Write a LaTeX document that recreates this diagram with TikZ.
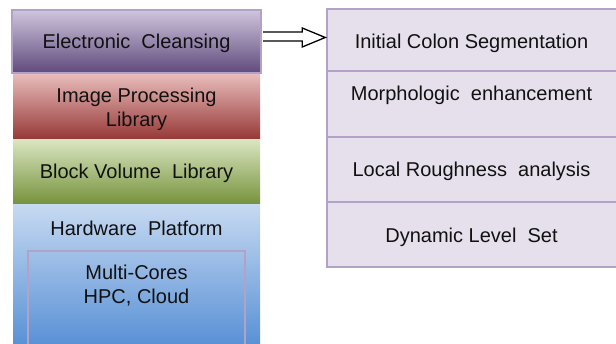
\documentclass[tikz,border=0pt]{standalone}
\usepackage{fontspec}
\setmainfont{Liberation Sans}
\usetikzlibrary{calc}
\definecolor{lav}{HTML}{B3A2C7}
\definecolor{ecTop}{HTML}{CFC5DD}
\definecolor{ecBot}{HTML}{5F4A7C}
\definecolor{ipTop}{HTML}{E8BCBB}
\definecolor{ipBot}{HTML}{953735}
\definecolor{bvTop}{HTML}{D9E5C0}
\definecolor{bvBot}{HTML}{76923C}
\definecolor{hwTop}{HTML}{C6D9F1}
\definecolor{hwBot}{HTML}{558ED5}
\definecolor{rFill}{HTML}{E6E0EC}
\definecolor{txt}{HTML}{111111}
\begin{document}
\begin{tikzpicture}[x=1pt,y=-1pt,
  lbl/.style={text=txt, font=\fontsize{20}{24}\selectfont, align=center, inner sep=0pt},
  tshift/.style={yshift=-2pt},
  layer/.style={lbl, rectangle, minimum width=247pt},
  rbox/.style={lbl, rectangle, draw=lav, line width=1.5pt, fill=rFill, minimum width=291pt},
  hollowarrow/.style={draw=black, line width=1.3pt, line join=miter}]
\useasboundingbox (0,0) rectangle (616,344);
\clip (0,0) rectangle (616,344);
% left stack
\node[layer, minimum height=66pt, top color=ipTop, bottom color=ipBot] (ip) at (136.5,107) {};
\node[lbl] (ipt) at (136.5,109) {Image Processing\\Library};
\node[layer, minimum height=64pt, top color=bvTop, bottom color=bvBot] (bv) at (136.5,172) {};
\node[lbl] (bvt) at (136.5,173) {Block Volume\ \ Library};
\node[layer, minimum height=145pt, top color=hwTop, bottom color=hwBot] (hw) at (136.5,277.5) {};
\node[lbl] (hwl) at (136.5,228) {Hardware\ \ Platform};
\node[rectangle, draw=lav, line width=1.5pt, minimum width=217pt, minimum height=99pt, inner sep=0pt] (mc) at (136.5,300.5) {};
\node[lbl] (mct) at (136.5,286) {Multi-Cores\\HPC, Cloud};
\node[layer, minimum width=249pt, minimum height=63pt, draw=lav, line width=2pt, top color=ecTop, bottom color=ecBot] (ec) at (136.5,41.5) {};
\node[lbl] (ect) at (136.5,43) {Electronic\ \ Cleansing};
% right stack
\node[rbox, minimum height=62pt] (r1) at (472.5,40) {};
\node[lbl] (r1t) at (471.5,43) {Initial\ Colon\ Segmentation};
\node[rbox, minimum height=66pt] (r2) at (472.5,104) {};
\node[lbl] (r2t) at (471.5,95) {Morphologic\ \ enhancement};
\node[rbox, minimum height=65pt] (r3) at (472.5,169.5) {};
\node[lbl] (r3t) at (471.5,171) {Local Roughness\ \ analysis};
\node[rbox, minimum height=65pt] (r4) at (472.5,234.5) {};
\node[lbl] (r4t) at (471.5,237) {Dynamic Level\ \ Set};
% arrow
\draw[hollowarrow] ($(ec.east)+(1,-9.5)$) -- ($(r1.west)+(-24,-8)$) -- ($(r1.west)+(-24,-12)$)
  -- ($(r1.west)+(-1,-2.5)$) -- ($(r1.west)+(-24,7)$) -- ($(r1.west)+(-24,1)$) -- ($(ec.east)+(1,-0.5)$);
\end{tikzpicture}
\end{document}
